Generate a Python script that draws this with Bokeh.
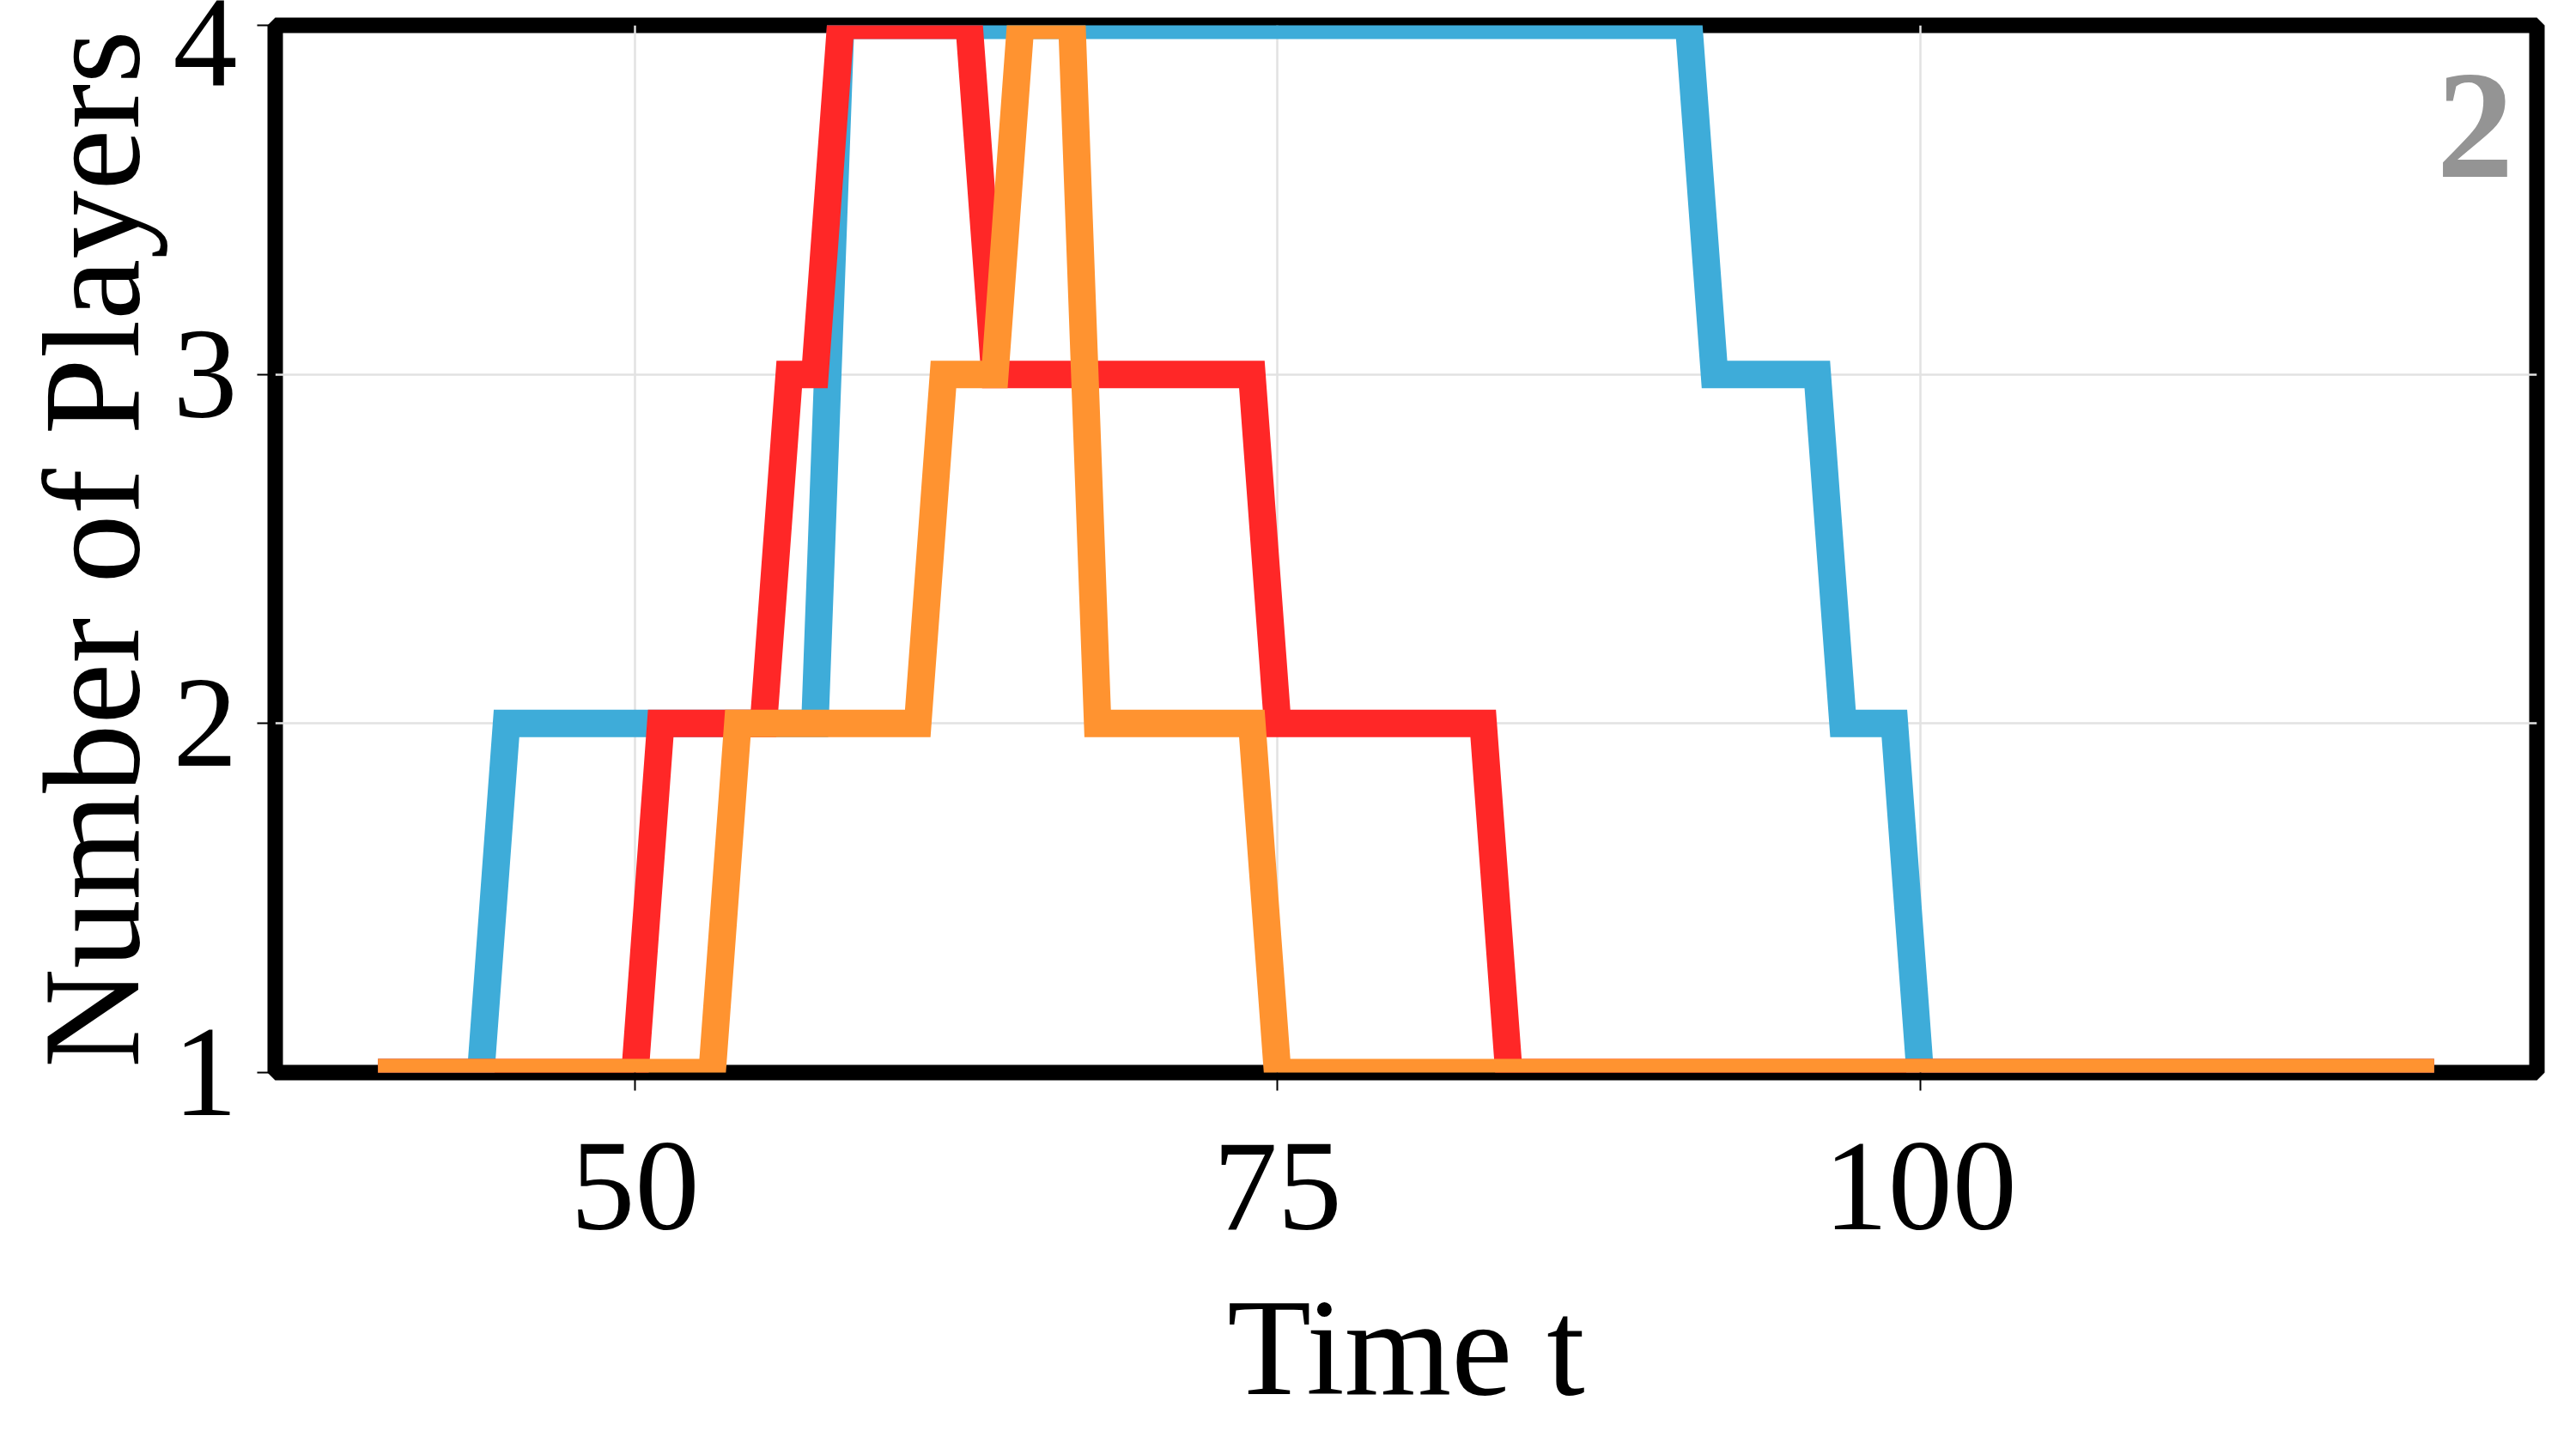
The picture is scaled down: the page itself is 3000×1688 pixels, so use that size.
from bokeh.plotting import figure
from bokeh.models import Range1d, FixedTicker, Label
from bokeh.embed import file_html
from bokeh.resources import INLINE

# Time steps
t = list(range(40, 121))

# Number of players per series (one value per time step 40..120)
blue = [1, 1, 1, 1, 1,
        2, 2, 2, 2, 2, 2, 2, 2, 2, 2, 2, 2, 2,
        4, 4, 4, 4, 4, 4, 4, 4, 4, 4, 4, 4, 4, 4, 4, 4, 4,
        4, 4, 4, 4, 4, 4, 4, 4, 4, 4, 4, 4, 4, 4, 4, 4, 4,
        3, 3, 3, 3, 3,
        2, 2, 2,
        1, 1, 1, 1, 1, 1, 1, 1, 1, 1, 1, 1, 1, 1, 1, 1, 1, 1, 1, 1, 1]
red = [1, 1, 1, 1, 1, 1, 1, 1, 1, 1, 1,
       2, 2, 2, 2, 2,
       3, 3,
       4, 4, 4, 4, 4, 4,
       3, 3, 3, 3, 3, 3, 3, 3, 3, 3, 3,
       2, 2, 2, 2, 2, 2, 2, 2, 2,
       1, 1, 1, 1, 1, 1, 1, 1, 1, 1, 1, 1, 1, 1, 1, 1, 1, 1, 1, 1, 1, 1, 1, 1,
       1, 1, 1, 1, 1, 1, 1, 1, 1, 1, 1, 1, 1]
orange = [1, 1, 1, 1, 1, 1, 1, 1, 1, 1, 1, 1, 1, 1,
          2, 2, 2, 2, 2, 2, 2, 2,
          3, 3, 3,
          4, 4, 4,
          2, 2, 2, 2, 2, 2, 2,
          1, 1, 1, 1, 1, 1, 1, 1, 1, 1, 1, 1, 1, 1, 1, 1, 1, 1, 1, 1, 1, 1, 1,
          1, 1, 1, 1, 1, 1, 1, 1, 1, 1, 1, 1, 1, 1, 1, 1, 1, 1, 1, 1, 1, 1, 1]

series = [("blue", blue, "#3EACD9"), ("red", red, "#FF2727"), ("orange", orange, "#FF9330")]

x_ticks = [50, 75, 100]
y_ticks = [1, 2, 3, 4]

FONT = "Liberation Serif"

p = figure(width=2984, height=1672, output_backend="svg", toolbar_location=None,
           x_range=Range1d(36, 124), y_range=Range1d(1, 4),
           min_border_left=320, min_border_right=30, min_border_top=29, min_border_bottom=423)

p.background_fill_color = "white"
p.border_fill_color = "white"
p.outline_line_color = "black"
p.outline_line_width = 18

for name, ys, col in series:
    p.line(t, ys, line_color=col, line_width=32, line_join="miter", line_cap="butt")

p.xaxis.ticker = FixedTicker(ticks=x_ticks)
p.yaxis.ticker = FixedTicker(ticks=y_ticks)
p.xgrid.ticker = FixedTicker(ticks=x_ticks)
p.ygrid.ticker = FixedTicker(ticks=y_ticks)
p.grid.grid_line_color = "#e2e2e2"
p.grid.grid_line_width = 2.5

for ax in (p.xaxis, p.yaxis):
    ax.axis_line_color = None
    ax.major_tick_in = 0
    ax.major_tick_out = 21
    ax.major_tick_line_width = 2
    ax.major_tick_line_color = "black"
    ax.minor_tick_line_color = None
    ax.major_label_text_font = FONT
    ax.major_label_text_font_size = "150px"
    ax.major_label_text_color = "black"
    ax.axis_label_text_font = FONT
    ax.axis_label_text_font_size = "160px"
    ax.axis_label_text_font_style = "normal"
    ax.axis_label_text_color = "black"

p.xaxis.axis_label = "Time t"
p.yaxis.axis_label = "Number of Players"
p.xaxis.major_label_standoff = 62
p.yaxis.major_label_standoff = 23
p.xaxis.axis_label_standoff = 46
p.yaxis.axis_label_standoff = 3

p.add_layout(Label(x=123.1, y=3.71, text="2", text_font=FONT, text_font_style="bold",
                   text_font_size="180px", text_color="#949494",
                   text_align="right", text_baseline="alphabetic"))

open("out.html", "w").write(file_html(p, INLINE))
